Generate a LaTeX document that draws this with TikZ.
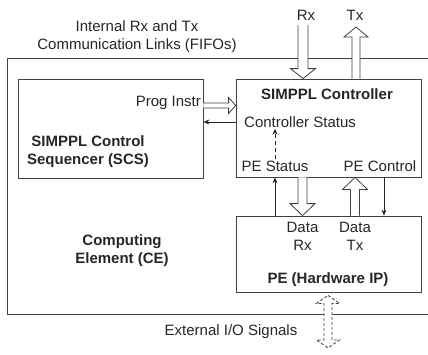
\documentclass[tikz,border=0pt]{standalone}
\usepackage{fontspec}
\setmainfont{Liberation Sans}
\usetikzlibrary{arrows.meta, calc}

% hollow (outlined) arrow: [style] {start} {end} {half shaft} {half head} {head length}
\newcommand{\hollowarrow}[6][]{%
  \draw[hollow,#1] ($(#2)!#4!90:(#3)$)
    -- ($(#3)!#6!(#2)!#4!90:(#3)$)
    -- ($(#3)!#6!(#2)!#5!90:(#3)$)
    -- (#3)
    -- ($(#3)!#6!(#2)!#5!-90:(#3)$)
    -- ($(#3)!#6!(#2)!#4!-90:(#3)$)
    -- ($(#2)!#4!-90:(#3)$);}
% same, with a head at both ends
\newcommand{\hollowboth}[6][]{%
  \draw[hollow,#1] (#2)
    -- ($(#2)!#6!(#3)!#5!90:(#3)$)
    -- ($(#2)!#6!(#3)!#4!90:(#3)$)
    -- ($(#3)!#6!(#2)!#4!90:(#3)$)
    -- ($(#3)!#6!(#2)!#5!90:(#3)$)
    -- (#3)
    -- ($(#3)!#6!(#2)!#5!-90:(#3)$)
    -- ($(#3)!#6!(#2)!#4!-90:(#3)$)
    -- ($(#2)!#6!(#3)!#4!-90:(#3)$)
    -- ($(#2)!#6!(#3)!#5!-90:(#3)$)
    -- cycle;}

\begin{document}
\begin{tikzpicture}[x=1pt, y=-1pt,
% Define block styles
blk/.style = {draw=black!75, line width=0.8pt, inner sep=0pt},
lbl/.style = {font=\fontsize{15}{18}\selectfont, inner sep=1pt, align=center, text=black!85},
ttl/.style = {lbl, font=\fontsize{15}{18}\selectfont\bfseries},
arrow/.style = {draw=black!85, line width=0.8pt, ->, >={Stealth[length=6pt,width=5pt]}},
hollow/.style = {draw=black!75, line width=0.8pt, fill=white, line join=miter}
]
\useasboundingbox (0,0) rectangle (428,354);

% Computing element frame
\draw[blk] (7,58) rectangle (445,314);

% Blocks
\node (scs) [blk, minimum width=185pt, minimum height=99pt] at (110.5,128.5) {};
\node (ctrl) [blk, minimum width=185pt, minimum height=98pt] at (328.5,128) {};
\node (pe) [blk, minimum width=185pt, minimum height=76pt] at (328.5,254) {};

% Texts
\node (links) [lbl] at (137,37) {Internal Rx and Tx\\Communication Links (FIFOs)};
\node (rx) [lbl] at (306,15) {Rx};
\node (tx) [lbl] at (355,15) {Tx};
\node (ctrlname) [ttl] at (327,94) {SIMPPL Controller};
\node (prog) [lbl, anchor=east] at (202,103) {Prog Instr};
\node (cstat) [lbl, anchor=west] at (243,122) {Controller Status};
\node (pestat) [lbl] at (275,166) {PE Status};
\node (pectl) [lbl] at (380,166) {PE Control};
\node (datarx) [lbl] at (302.5,236) {Data\\Rx};
\node (datatx) [lbl] at (355,236) {Data\\Tx};
\node (pename) [ttl] at (328,280) {PE (Hardware IP)};
\node (scsname) [ttl] at (88,152) {SIMPPL Control\\Sequencer (SCS)};
\node (cename) [ttl] at (122,251) {Computing\\Element (CE)};
\node (io) [lbl] at (231,332) {External I/O Signals};

% Connector ends
\coordinate (rxin) at (303,25);
\coordinate (rxend) at (rxin |- ctrl.north);
\coordinate (txout) at (356,27);
\coordinate (txbeg) at (txout |- ctrl.north);
\coordinate (piy) at (0,105.5);
\coordinate (pibeg) at (scs.east |- piy);
\coordinate (piend) at (ctrl.west |- piy);
\coordinate (drxbeg) at (ctrl.south -| datarx);
\coordinate (drxend) at (pe.north -| datarx);
\coordinate (dtxbeg) at (pe.north -| datatx);
\coordinate (dtxend) at (ctrl.south -| datatx);
\coordinate (pcx) at (384,0);
\coordinate (iox) at (328,0);
\coordinate (iotop) at ([yshift=-3pt]pe.south -| iox);
\coordinate (iobot) at (iox |- 0,348);

% Arrows
\hollowarrow{rxin}{rxend}{5pt}{12.5pt}{10pt}
\hollowarrow{txbeg}{txout}{4pt}{12pt}{10pt}
\hollowarrow{pibeg}{piend}{2.5pt}{8pt}{7pt}
\hollowarrow{drxbeg}{drxend}{4.5pt}{12.5pt}{12pt}
\hollowarrow{dtxbeg}{dtxend}{4.5pt}{12.5pt}{12pt}
\hollowboth[dash pattern=on 3pt off 2pt]{iotop}{iobot}{4pt}{11.5pt}{8pt}

\draw [arrow] (ctrl.west |- cstat) -- (scs.east |- cstat);
\draw [arrow] (pe.north -| pestat) -- (ctrl.south -| pestat);
\draw [arrow, dash pattern=on 4pt off 3pt] (pestat.north) -- (cstat.south -| pestat);
\draw [arrow] (ctrl.south -| pcx) -- (pe.north -| pcx);
\end{tikzpicture}
\end{document}
